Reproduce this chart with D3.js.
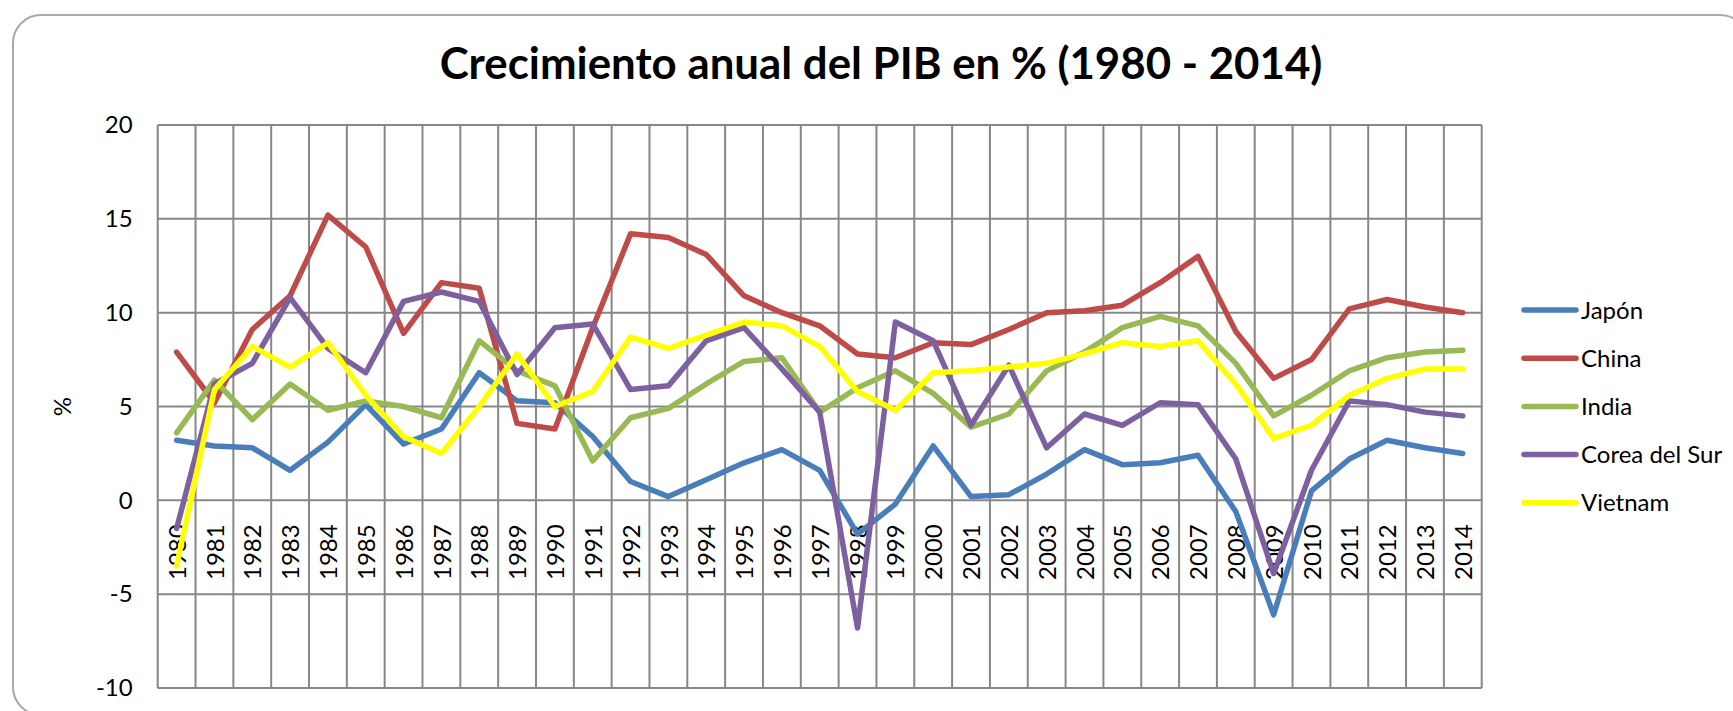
<!DOCTYPE html>
<html>
<head>
<meta charset="utf-8">
<script src="https://cdn.jsdelivr.net/npm/d3@7"></script>
<style>
  body { margin: 0; background: #fff; }
  text { font-family: Lato, "Open Sans", sans-serif; fill: #000; }
</style>
</head>
<body>
<div id="chart"></div>
<script>
// values
const years = d3.range(1980, 2015).map(String);
const seriesNames = ["Japón", "China", "India", "Corea del Sur", "Vietnam"];
const seriesColors = ["#4a7ebb", "#be4b48", "#98b954", "#7d60a0", "#ffff00"];

const japon = [3.2, 2.9, 2.8, 1.6, 3.1, 5.1, 3.0, 3.8, 6.8, 5.3,
               5.2, 3.4, 1.0, 0.2, 1.1, 2.0, 2.7, 1.6, -1.8, -0.2,
               2.9, 0.2, 0.3, 1.4, 2.7, 1.9, 2.0, 2.4, -0.6, -6.1,
               0.5, 2.2, 3.2, 2.8, 2.5];
const china = [7.9, 5.2, 9.1, 10.9, 15.2, 13.5, 8.9, 11.6, 11.3, 4.1,
               3.8, 9.2, 14.2, 14.0, 13.1, 10.9, 10.0, 9.3, 7.8, 7.6,
               8.4, 8.3, 9.1, 10.0, 10.1, 10.4, 11.6, 13.0, 9.0, 6.5,
               7.5, 10.2, 10.7, 10.3, 10.0];
const india = [3.6, 6.4, 4.3, 6.2, 4.8, 5.3, 5.0, 4.4, 8.5, 6.9,
               6.1, 2.1, 4.4, 4.9, 6.2, 7.4, 7.6, 4.7, 6.0, 6.9,
               5.7, 3.9, 4.6, 6.9, 7.9, 9.2, 9.8, 9.3, 7.3, 4.5,
               5.6, 6.9, 7.6, 7.9, 8.0];
const corea = [-1.5, 6.2, 7.3, 10.8, 8.1, 6.8, 10.6, 11.1, 10.6, 6.7,
               9.2, 9.4, 5.9, 6.1, 8.5, 9.2, 7.0, 4.7, -6.8, 9.5,
               8.5, 4.0, 7.2, 2.8, 4.6, 4.0, 5.2, 5.1, 2.2, -3.9,
               1.6, 5.3, 5.1, 4.7, 4.5];
const vietnam = [-3.5, 5.9, 8.2, 7.1, 8.4, 5.6, 3.4, 2.5, 5.0, 7.8,
                 5.0, 5.8, 8.7, 8.1, 8.8, 9.5, 9.3, 8.2, 5.8, 4.8,
                 6.8, 6.9, 7.1, 7.3, 7.8, 8.4, 8.2, 8.5, 6.2, 3.3,
                 4.0, 5.6, 6.5, 7.0, 7.0];
const yTicks = [-10, -5, 0, 5, 10, 15, 20];

const allSeries = [japon, china, india, corea, vietnam];

const width = 1733, height = 711;
const plot = { left: 157.7, right: 1481.7, top: 125, bottom: 688 };
const labelSize = "24px";

const svg = d3.select("#chart").append("svg")
    .attr("width", width)
    .attr("height", height);

// chart frame
svg.append("rect")
    .attr("x", 13).attr("y", 15)
    .attr("width", 1735).attr("height", 700)
    .attr("rx", 28)
    .attr("fill", "#fff")
    .attr("stroke", "#a9a9a9")
    .attr("stroke-width", 2);

const x = d3.scaleBand().domain(years).range([plot.left, plot.right]);
const y = d3.scaleLinear().domain([-10, 20]).range([plot.bottom, plot.top]);
const gridColor = "#878787";

// horizontal grid
svg.append("g").selectAll("line")
    .data(yTicks)
    .enter().append("line")
    .attr("x1", plot.left).attr("x2", plot.right)
    .attr("y1", d => y(d)).attr("y2", d => y(d))
    .attr("stroke", gridColor).attr("stroke-width", 2);

// vertical grid at category edges
const edges = years.map(d => x(d)).concat([plot.right]);
svg.append("g").selectAll("line")
    .data(edges)
    .enter().append("line")
    .attr("x1", d => d).attr("x2", d => d)
    .attr("y1", plot.top).attr("y2", plot.bottom)
    .attr("stroke", gridColor).attr("stroke-width", 2);

// y axis labels (plain hyphen for negatives, like the original)
const yAxis = d3.axisLeft(y).tickValues(yTicks).tickSize(0).tickPadding(25)
    .tickFormat(d => String(d));
const yg = svg.append("g")
    .attr("transform", "translate(" + plot.left + ",0)")
    .call(yAxis);
yg.select(".domain").remove();
yg.selectAll("text")
    .style("font-family", "Lato, sans-serif")
    .style("font-size", labelSize)
    .attr("fill", "#000");

// x labels, rotated, hanging below the zero line
svg.append("g").selectAll("text")
    .data(years)
    .enter().append("text")
    .attr("transform", d => "translate(" + (x(d) + x.bandwidth() / 2 + 0.5) + "," + (y(0) + 24) + ") rotate(-90)")
    .attr("text-anchor", "end")
    .attr("dy", "0.36em")
    .style("font-size", labelSize)
    .text(d => d);

// "%" axis title
svg.append("text")
    .attr("transform", "translate(62," + ((plot.top + plot.bottom) / 2) + ") rotate(-90)")
    .attr("text-anchor", "middle")
    .attr("dy", "0.36em")
    .style("font-size", labelSize)
    .text("%");

// series lines
const line = d3.line()
    .x((d, i) => x(years[i]) + x.bandwidth() / 2)
    .y(d => y(d));

svg.append("g").selectAll("path")
    .data(allSeries)
    .enter().append("path")
    .attr("d", line)
    .attr("fill", "none")
    .attr("stroke", (d, i) => seriesColors[i])
    .attr("stroke-width", 5.5)
    .attr("stroke-linejoin", "round")
    .attr("stroke-linecap", "round");

// legend
const legend = svg.append("g");
const legendRows = [310, 358.3, 406.5, 454.5, 502.7];
seriesNames.forEach(function(name, i) {
    legend.append("line")
        .attr("x1", 1524).attr("x2", 1576)
        .attr("y1", legendRows[i]).attr("y2", legendRows[i])
        .attr("stroke", seriesColors[i])
        .attr("stroke-width", 5.5)
        .attr("stroke-linecap", "round");
    legend.append("text")
        .attr("x", 1581)
        .attr("y", legendRows[i])
        .attr("dy", "0.36em")
        .style("font-size", labelSize)
        .text(name);
});

// title, sized to the reference width
const title = svg.append("text")
    .attr("x", 881)
    .attr("y", 79)
    .attr("text-anchor", "middle")
    .style("font-weight", "bold")
    .style("font-size", "40px")
    .text("Crecimiento anual del PIB en % (1980 - 2014)");
const tw = title.node().getComputedTextLength();
title.style("font-size", (40 * 883 / tw).toFixed(1) + "px");
</script>
</body>
</html>
